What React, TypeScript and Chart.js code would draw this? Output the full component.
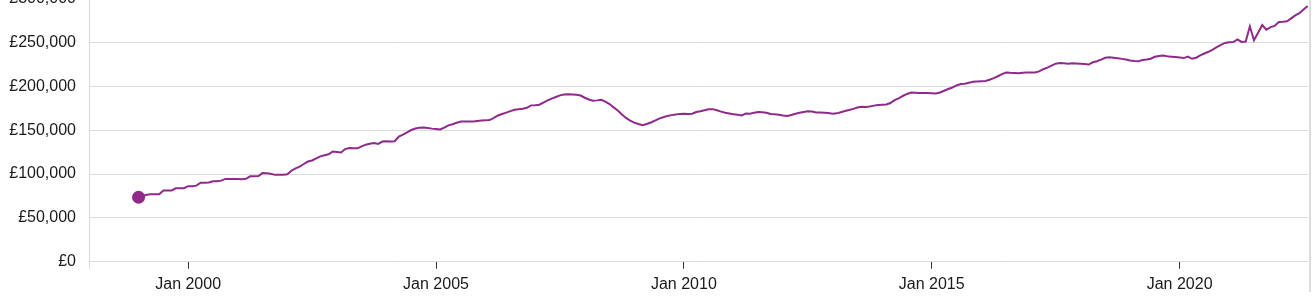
import React, { useEffect, useRef } from 'react';
import { Chart, registerables } from 'chart.js';

Chart.register(...registerables);

// Monthly average house price (£), January of the first year onwards
const firstYear = 1999;
const y1999 = [73600, 75000, 76500, 77000, 77100, 77100, 81200, 81200, 81300, 83700, 83800, 83900];
const y2000 = [86200, 86200, 86800, 90100, 90200, 90400, 91800, 91900, 92500, 94500, 94500, 94400];
const y2001 = [94300, 94100, 94600, 97400, 97500, 97700, 101100, 101000, 100300, 99100, 99100, 99200];
const y2002 = [99800, 103800, 106500, 108400, 111500, 114300, 115500, 118000, 120200, 121500, 122600, 125800];
const y2003 = [125200, 124600, 128500, 129800, 129500, 129300, 131500, 133500, 134500, 135500, 134300, 137000];
const y2004 = [137300, 137100, 137500, 142800, 145000, 147500, 150200, 152000, 152800, 153200, 152500, 151800];
const y2005 = [151300, 150800, 153000, 155500, 156800, 158500, 159800, 160000, 159800, 160000, 160500, 161000];
const y2006 = [161200, 161600, 164000, 166800, 168500, 170000, 171800, 173300, 174000, 174500, 175500, 178300];
const y2007 = [178500, 179000, 181500, 184000, 186000, 187800, 189700, 190800, 191100, 190800, 190500, 189500];
const y2008 = [187000, 185000, 183500, 184000, 184700, 182500, 179800, 176000, 172500, 168000, 164000, 161000];
const y2009 = [158700, 157000, 155800, 157000, 158800, 161000, 163200, 164800, 166300, 167200, 168000, 168600];
const y2010 = [168700, 168500, 168700, 170700, 171500, 172700, 173800, 174000, 172800, 171200, 169800, 169100];
const y2011 = [168300, 167500, 166800, 169000, 168800, 170000, 170700, 170500, 169800, 168400, 168100, 167500];
const y2012 = [166800, 166300, 167300, 168700, 169800, 170700, 171500, 171300, 170300, 170100, 170000, 169500];
const y2013 = [168700, 169200, 170500, 171800, 173000, 174300, 175900, 176600, 176500, 177000, 178000, 178800];
const y2014 = [179000, 179300, 181000, 184300, 186300, 189000, 191300, 193000, 192800, 192300, 192400, 192300];
const y2015 = [192000, 191800, 193000, 195000, 197000, 198600, 201000, 202600, 203000, 204000, 205100, 205600];
const y2016 = [205900, 206200, 207500, 209400, 211500, 214000, 215800, 215400, 215200, 215000, 215400, 215700];
const y2017 = [215700, 215700, 217000, 219500, 221300, 223500, 225800, 226600, 226200, 225800, 226300, 226000];
const y2018 = [225800, 225500, 224800, 227400, 228600, 230500, 232600, 233200, 232700, 232100, 231300, 230600];
const y2019 = [229500, 228800, 228500, 230000, 230500, 231500, 233700, 234600, 235000, 234200, 233800, 233400];
const y2020 = [233000, 232200, 233900, 231400, 232600, 235200, 237400, 239400, 241900, 244600, 247300, 249500];
const y2021 = [250200, 250500, 253500, 250600, 251000, 268400, 252500, 261000, 269900, 264500, 267500, 268800];
const y2022 = [273300, 273600, 274200, 277500, 280800, 283300, 287500, 291500];

const yearly = [
  y1999, y2000, y2001, y2002, y2003, y2004, y2005, y2006, y2007, y2008, y2009, y2010,
  y2011, y2012, y2013, y2014, y2015, y2016, y2017, y2018, y2019, y2020, y2021, y2022,
];

const xLabelYears = [2000, 2005, 2010, 2015, 2020];
const xMin = 1998;
const xMax = 2022.6;
const yMin = 0;
const yMax = 300000;
const yStep = 50000;

const PURPLE = '#8f2a8b';
const GRID = '#dcdcdc';
const TEXT = '#1a1a1a';
const FONT = { family: "'Liberation Sans', Arial, sans-serif", size: 16 };

export default function App() {
  const ref = useRef<HTMLCanvasElement>(null);

  useEffect(() => {
    document.body.style.margin = '0';
    const points: { x: number; y: number }[] = [];
    yearly.forEach((arr, yi) =>
      arr.forEach((v, mi) => points.push({ x: firstYear + yi + mi / 12, y: v }))
    );

    const chart = new Chart(ref.current as HTMLCanvasElement, {
      type: 'line',
      data: {
        datasets: [
          {
            data: points,
            borderColor: PURPLE,
            borderWidth: 2,
            backgroundColor: PURPLE,
            pointBackgroundColor: PURPLE,
            pointBorderWidth: 0,
            pointRadius: (ctx: any) => (ctx.dataIndex === 0 ? 6.5 : 0),
            pointHoverRadius: 0,
            tension: 0,
            fill: false,
          },
        ],
      },
      options: {
        animation: false,
        responsive: false,
        layout: { padding: { left: 0, right: 5, top: 0, bottom: 6 } },
        plugins: { legend: { display: false }, tooltip: { enabled: false } },
        scales: {
          x: {
            type: 'linear',
            min: xMin,
            max: xMax,
            ticks: {
              stepSize: 5,
              autoSkip: false,
              maxRotation: 0,
              padding: 6,
              color: TEXT,
              font: FONT,
              callback: (v: any) => (xLabelYears.includes(Number(v)) ? 'Jan ' + v : ''),
            },
            grid: {
              drawOnChartArea: false,
              drawTicks: true,
              tickLength: 7,
              tickWidth: 1,
              tickColor: (ctx: any) => {
                const v = ctx.tick ? ctx.tick.value : null;
                if (xLabelYears.includes(v)) return '#333333';
                if (v === xMin) return GRID;
                return 'rgba(0,0,0,0)';
              },
            },
            border: { display: false },
          },
          y: {
            min: yMin,
            max: yMax,
            afterFit: (s: any) => {
              s.width = 89;
            },
            ticks: {
              stepSize: yStep,
              padding: 13,
              color: TEXT,
              font: FONT,
              callback: (v: any) => '£' + Number(v).toLocaleString('en-GB'),
            },
            grid: { color: GRID, drawTicks: false, lineWidth: 1 },
            border: { display: true, color: GRID, width: 1 },
          },
        },
      },
    } as any);
    return () => chart.destroy();
  }, []);

  return (
    <div style={{ position: 'relative', width: 1315, height: 299, overflow: 'hidden', background: '#fff' }}>
      <canvas
        ref={ref}
        width={1315}
        height={330}
        style={{ position: 'absolute', left: 0, top: -24, width: 1315, height: 330 }}
      />
      <div style={{ position: 'absolute', left: 1309, top: 0, width: 2, height: 292, background: '#dddddd' }} />
    </div>
  );
}
